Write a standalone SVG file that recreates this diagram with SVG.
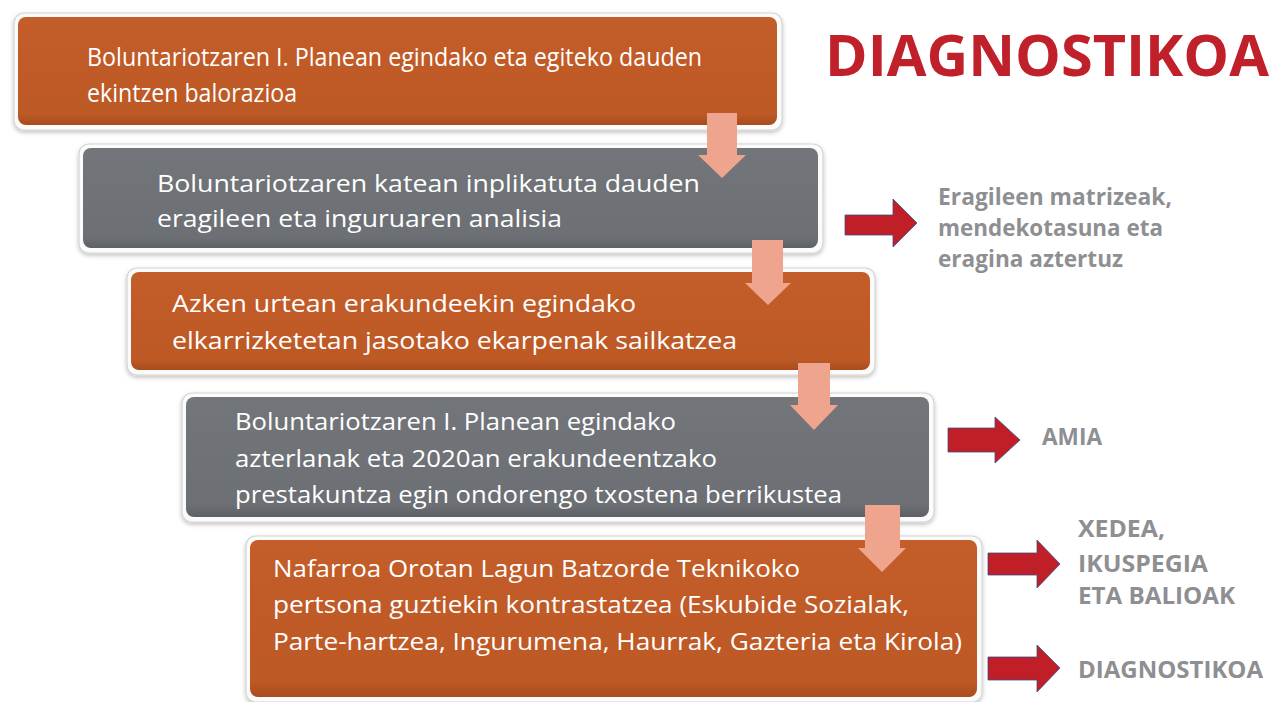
<svg xmlns="http://www.w3.org/2000/svg" width="1279" height="702" viewBox="0 0 1279 702">
<style>
.frame{fill:#fbfbfb;stroke:#d4d4d4;stroke-width:1.2}
.or{fill:url(#gOr)}
.gr{fill:url(#gGr)}
.bt{font-family:"Open Sans","Noto Sans",sans-serif;font-size:24px;fill:#ffffff}
.bc{font-family:"Open Sans","Noto Sans",sans-serif;font-size:25px;fill:#ffffff}
.lb{font-family:"Open Sans","Noto Sans",sans-serif;font-weight:700;font-size:23px;fill:#8e8f92}
.title{font-family:"Open Sans","Noto Sans",sans-serif;font-weight:700;font-size:58px;fill:#c0202a}
.down{fill:#efa48e}
.right{fill:#c01f27;stroke:#3a4f8c;stroke-width:0.8}
</style>
<defs>
<linearGradient id="gOr" x1="0" y1="0" x2="0" y2="1">
<stop offset="0" stop-color="#c35d29"/>
<stop offset="0.9" stop-color="#bd5925"/>
<stop offset="1" stop-color="#a84b1d"/>
</linearGradient>
<linearGradient id="gGr" x1="0" y1="0" x2="0" y2="1">
<stop offset="0" stop-color="#727579"/>
<stop offset="0.9" stop-color="#6c6f73"/>
<stop offset="1" stop-color="#5c5f63"/>
</linearGradient>
<filter id="sh" x="-5%" y="-10%" width="110%" height="125%">
<feDropShadow dx="0" dy="2" stdDeviation="2" flood-color="#000" flood-opacity="0.25"/>
</filter>
</defs>
<rect width="1279" height="702" fill="#ffffff"/>

<g id="title">
<text class="title" x="825" y="76" textLength="444" lengthAdjust="spacingAndGlyphs">DIAGNOSTIKOA</text>
</g>

<g id="box1">
<rect class="frame" x="14" y="13" width="768" height="117" rx="10" filter="url(#sh)"/>
<rect class="or" x="18" y="17" width="759" height="108" rx="8"/>
<text class="bc" x="87" y="66" textLength="615" lengthAdjust="spacingAndGlyphs">Boluntariotzaren I. Planean egindako eta egiteko dauden</text>
<text class="bc" x="87" y="102" textLength="210" lengthAdjust="spacingAndGlyphs">ekintzen balorazioa</text>
</g>

<g id="box2">
<rect class="frame" x="79" y="144" width="744" height="109" rx="10" filter="url(#sh)"/>
<rect class="gr" x="83" y="148" width="735" height="100" rx="8"/>
<text class="bt" x="157" y="192" textLength="543" lengthAdjust="spacingAndGlyphs">Boluntariotzaren katean inplikatuta dauden</text>
<text class="bt" x="157" y="227" textLength="405" lengthAdjust="spacingAndGlyphs">eragileen eta inguruaren analisia</text>
</g>

<g id="box3">
<rect class="frame" x="127" y="268" width="748" height="107" rx="10" filter="url(#sh)"/>
<rect class="or" x="131" y="272" width="739" height="98" rx="8"/>
<text class="bt" x="172" y="312" textLength="464" lengthAdjust="spacingAndGlyphs">Azken urtean erakundeekin egindako</text>
<text class="bt" x="172" y="349" textLength="565" lengthAdjust="spacingAndGlyphs">elkarrizketetan jasotako ekarpenak sailkatzea</text>
</g>

<g id="box4">
<rect class="frame" x="182" y="393" width="752" height="129" rx="10" filter="url(#sh)"/>
<rect class="gr" x="186" y="397" width="743" height="120" rx="8"/>
<text class="bt" x="235" y="430" textLength="441" lengthAdjust="spacingAndGlyphs">Boluntariotzaren I. Planean egindako</text>
<text class="bt" x="235" y="467" textLength="482" lengthAdjust="spacingAndGlyphs">azterlanak eta 2020an erakundeentzako</text>
<text class="bt" x="235" y="503" textLength="607" lengthAdjust="spacingAndGlyphs">prestakuntza egin ondorengo txostena berrikustea</text>
</g>

<g id="box5">
<rect class="frame" x="246" y="536" width="736" height="166" rx="10" filter="url(#sh)"/>
<rect class="or" x="250" y="540" width="727" height="157" rx="8"/>
<text class="bt" x="273" y="577" textLength="527" lengthAdjust="spacingAndGlyphs">Nafarroa Orotan Lagun Batzorde Teknikoko</text>
<text class="bt" x="273" y="613" textLength="636" lengthAdjust="spacingAndGlyphs">pertsona guztiekin kontrastatzea (Eskubide Sozialak,</text>
<text class="bt" x="273" y="650" textLength="689" lengthAdjust="spacingAndGlyphs">Parte-hartzea, Ingurumena, Haurrak, Gazteria eta Kirola)</text>
</g>

<g id="label-matrizeak">
<text class="lb" x="938" y="205" textLength="234" lengthAdjust="spacingAndGlyphs">Eragileen matrizeak,</text>
<text class="lb" x="938" y="236" textLength="225" lengthAdjust="spacingAndGlyphs">mendekotasuna eta</text>
<text class="lb" x="938" y="267" textLength="185" lengthAdjust="spacingAndGlyphs">eragina aztertuz</text>
</g>

<g id="label-amia">
<text class="lb" x="1042" y="445" textLength="60" lengthAdjust="spacingAndGlyphs">AMIA</text>
</g>

<g id="label-xedea">
<text class="lb" x="1078" y="537" textLength="87" lengthAdjust="spacingAndGlyphs">XEDEA,</text>
<text class="lb" x="1078" y="572" textLength="130" lengthAdjust="spacingAndGlyphs">IKUSPEGIA</text>
<text class="lb" x="1078" y="604" textLength="157" lengthAdjust="spacingAndGlyphs">ETA BALIOAK</text>
</g>

<g id="label-diagnostikoa">
<text class="lb" x="1078" y="678" textLength="185" lengthAdjust="spacingAndGlyphs">DIAGNOSTIKOA</text>
</g>

<g id="connectors">
<polygon class="down" points="707,113 737,113 737,155 746,155 722,178 698,155 707,155"/>
<polygon class="down" points="752,240 783,240 783,283 791,283 768,305 745,283 752,283"/>
<polygon class="down" points="798,363 830,363 830,405 838,405 814,430 790,405 798,405"/>
<polygon class="down" points="865,505 900,505 900,548 906,548 882,572 858,548 865,548"/>
<polygon class="right" points="845,215 893,215 893,199 917,223 893,247 893,235 845,235"/>
<polygon class="right" points="948,428 995,428 995,417 1020,440 995,463 995,452 948,452"/>
<polygon class="right" points="988,553 1037,553 1037,540 1060,564 1037,588 1037,575 988,575"/>
<polygon class="right" points="988,657 1037,657 1037,645 1060,668 1037,692 1037,680 988,680"/>
</g>
</svg>
